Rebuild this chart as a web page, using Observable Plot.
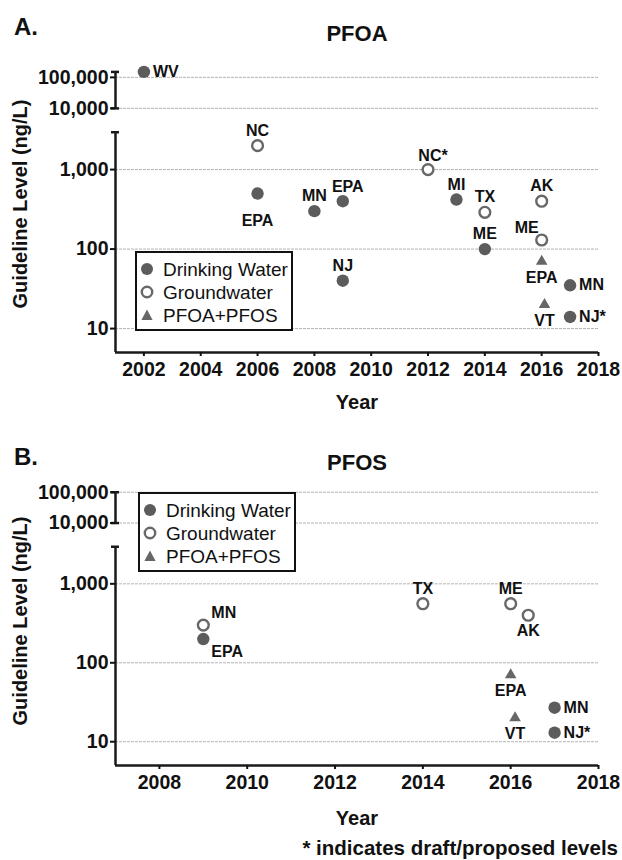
<!DOCTYPE html>
<html>
<head>
<meta charset="utf-8">
<script src="https://cdn.jsdelivr.net/npm/d3@7"></script>
<script src="https://cdn.jsdelivr.net/npm/@observablehq/plot@0.6"></script>
<style>
  body { margin: 0; background: #fff; font-family: "Liberation Sans", Arial, sans-serif; }
  #fig { position: relative; width: 622px; height: 860px; background: #fff; overflow: hidden; }
  .panel { position: absolute; left: 0; width: 622px; height: 430px; }
  .abs { position: absolute; white-space: nowrap; color: #111; line-height: 1; font-family: "Liberation Sans", Arial, sans-serif; }
  .ctr { transform: translate(-50%, -50%); }
  .legend { position: absolute; box-sizing: border-box; width: 158px; height: 80px; border: 2px solid #111; background: #fff; }
  .legend .row { position: absolute; left: 0; height: 0; }
  .legend .row svg { position: absolute; left: 3px; top: -7px; }
  .legend .row span { position: absolute; left: 26px; top: 0; transform: translateY(-50%); font-size: 19px; line-height: 1; color: #111; white-space: nowrap; }
  #fig svg g[aria-label="y-axis tick label"], #fig svg g[aria-label="x-axis tick label"] { font-weight: bold; font-size: 19.5px; }
</style>
</head>
<body>
<div id="fig"></div>
<script>
// ---------- data ----------
const legendLabels = ["Drinking Water", "Groundwater", "PFOA+PFOS"];
const legendTypes = ["dw", "gw", "combo"];
const yTickValues = [10, 100, 1000, 10000, 100000];
const yTickLabels = ["10", "100", "1,000", "10,000", "100,000"];
const xTicksA = [2002, 2004, 2006, 2008, 2010, 2012, 2014, 2016, 2018];
const xTicksB = [2008, 2010, 2012, 2014, 2016, 2018];
const xDomainA = [2001, 2018];
const xDomainB = [2007, 2018];

// PFOA
const yearA  = [2002, 2006, 2006, 2008, 2009, 2009, 2012, 2013, 2014, 2014, 2016, 2016, 2016, 2016.1, 2017, 2017];
const valueA = [150000, 2000, 500, 300, 400, 40, 1000, 420, 290, 100, 400, 130, 70, 20, 35, 14];
const typeA  = ["dw", "gw", "dw", "dw", "dw", "dw", "gw", "dw", "gw", "dw", "gw", "gw", "combo", "combo", "dw", "dw"];
const labelA = ["WV", "NC", "EPA", "MN", "EPA", "NJ", "NC*", "MI", "TX", "ME", "AK", "ME", "EPA", "VT", "MN", "NJ*"];
const sideA  = ["right", "top", "bottom-far", "top", "top-right", "top", "top-right", "top", "top", "top", "top", "left-top", "bottom", "bottom", "right", "right"];

// PFOS
const yearB  = [2009, 2009, 2014, 2016, 2016.4, 2016, 2016.1, 2017, 2017];
const valueB = [300, 200, 560, 560, 400, 70, 20, 27, 13];
const typeB  = ["gw", "dw", "gw", "gw", "gw", "combo", "combo", "dw", "dw"];
const labelB = ["MN", "EPA", "TX", "ME", "AK", "EPA", "VT", "MN", "NJ*"];
const sideB  = ["right-top", "right-bottom", "top", "top", "bottom", "bottom", "bottom", "right", "right"];

// broken axis values
const yMinValue = 5, yMaxValue = 350000, breakLow = 2950;
const segTopA = 150000, segTopB = 100000;

// ---------- helpers ----------
// piecewise log: lower segment is log10, upper segment (>= 10,000) compressed
function t(v) { return v < 5000 ? Math.log10(v) : 3.77 + (Math.log10(v) - 4) * 0.39; }

const sideStyle = {
  "top":          {dx: 0,  dy: -15, textAnchor: "middle"},
  "top-right":    {dx: 5,  dy: -14, textAnchor: "middle"},
  "bottom":       {dx: 0,  dy: 16,  textAnchor: "middle"},
  "bottom-far":   {dx: 0,  dy: 27,  textAnchor: "middle"},
  "right":        {dx: 9,  dy: 0,   textAnchor: "start"},
  "left-top":     {dx: -3, dy: -12, textAnchor: "end"},
  "right-top":    {dx: 8,  dy: -12, textAnchor: "start"},
  "right-bottom": {dx: 8,  dy: 13,  textAnchor: "start"}
};

const DOT = "#5c5c5c", OPEN = "#686868", TRI = "#666666", AXIS = "#1a1a1a";

function rowsOf(years, values, types, labels, sides) {
  return years.map((x, i) => ({x, v: values[i], type: types[i], label: labels[i], side: sides[i]}));
}

function makePanel(rows, xDomain, xTicks, segTop, marginTop, marginBottom) {
  const width = 622, height = 430, mL = 115, mR = 24;
  const pxPerYear = (width - mL - mR) / (xDomain[1] - xDomain[0]);
  const cap = 4 / pxPerYear;
  const x0 = xDomain[0];
  const tickT = yTickValues.map(t);
  const fmt = new Map(tickT.map((d, i) => [d, yTickLabels[i]]));
  const labelMarks = Object.entries(sideStyle).map(([side, s]) =>
    Plot.text(rows.filter(d => d.side === side), {
      x: "x", y: d => t(d.v), text: "label", ...s,
      fontSize: 16, fontWeight: "bold", fill: "#111"
    }));
  const axisLine = {stroke: AXIS, strokeWidth: 2.5};
  return Plot.plot({
    width, height, marginLeft: mL, marginRight: mR, marginTop, marginBottom,
    style: {fontFamily: '"Liberation Sans", Arial, sans-serif', color: "#111", background: "white"},
    x: {domain: xDomain, label: null},
    y: {type: "linear", domain: [t(yMinValue), t(yMaxValue)], label: null},
    marks: [
      Plot.ruleY(yTickValues, {y: d => t(d), stroke: "#b4b4b4", strokeWidth: 1, strokeDasharray: "3,1"}),
      Plot.ruleX([x0], {x: d => d, y1: t(10000), y2: t(segTop), ...axisLine}),
      Plot.ruleX([x0], {x: d => d, y1: t(yMinValue), y2: t(breakLow), ...axisLine}),
      Plot.ruleY([segTop, 10000, breakLow], {y: d => t(d), x1: x0 - cap, x2: x0 + cap, ...axisLine}),
      Plot.ruleY([yMinValue], {y: d => t(d), x1: xDomain[0], x2: xDomain[1], ...axisLine}),
      Plot.axisY({ticks: tickT, tickFormat: d => fmt.get(d), tickSize: 5, tickPadding: 2, strokeWidth: 2, fontSize: 19.5, fontWeight: "bold", label: null}),
      Plot.axisX({ticks: xTicks, tickFormat: d => String(d), tickSize: 4, tickPadding: 6, strokeWidth: 2, fontSize: 19.5, fontWeight: "bold", label: null}),
      Plot.dot(rows.filter(d => d.type === "gw"), {x: "x", y: d => t(d.v), r: 5.4, fill: "white", stroke: OPEN, strokeWidth: 2.4}),
      Plot.dot(rows.filter(d => d.type === "dw"), {x: "x", y: d => t(d.v), r: 6.2, fill: DOT, stroke: "none"}),
      Plot.dot(rows.filter(d => d.type === "combo"), {x: "x", y: d => t(d.v), symbol: "triangle", r: 4.3, fill: TRI, stroke: "none"}),
      ...labelMarks
    ]
  });
}

// ---------- build ----------
const fig = document.getElementById("fig");

function addPanel(svg, top) {
  const div = document.createElement("div");
  div.className = "panel";
  div.style.top = top + "px";
  div.appendChild(svg);
  fig.appendChild(div);
}
function addText(txt, x, y, size, opts = {}) {
  const d = document.createElement("div");
  d.className = "abs" + (opts.center !== false ? " ctr" : "");
  d.textContent = txt;
  d.style.left = x + "px";
  d.style.top = y + "px";
  d.style.fontSize = size + "px";
  d.style.fontWeight = opts.weight || "bold";
  if (opts.rotate) d.style.transform = "translate(-50%, -50%) rotate(-90deg)";
  if (opts.right != null) { d.style.left = "auto"; d.style.right = opts.right + "px"; d.style.transform = "translateY(-50%)"; }
  fig.appendChild(d);
}
function symbolSvg(type) {
  const ns = "http://www.w3.org/2000/svg";
  const s = document.createElementNS(ns, "svg");
  s.setAttribute("width", 14); s.setAttribute("height", 14);
  let el;
  if (type === "dw") {
    el = document.createElementNS(ns, "circle");
    el.setAttribute("cx", 7); el.setAttribute("cy", 7); el.setAttribute("r", 6);
    el.setAttribute("fill", DOT);
  } else if (type === "gw") {
    el = document.createElementNS(ns, "circle");
    el.setAttribute("cx", 7); el.setAttribute("cy", 7); el.setAttribute("r", 5.2);
    el.setAttribute("fill", "white"); el.setAttribute("stroke", OPEN); el.setAttribute("stroke-width", 2.4);
  } else {
    el = document.createElementNS(ns, "path");
    el.setAttribute("d", "M7,1.5 L12.6,12 L1.4,12 Z");
    el.setAttribute("fill", TRI);
  }
  s.appendChild(el);
  return s;
}
function addLegend(left, top) {
  const box = document.createElement("div");
  box.className = "legend";
  box.style.left = left + "px";
  box.style.top = top + "px";
  const rowY = [16, 39, 62];
  legendLabels.forEach((lab, i) => {
    const r = document.createElement("div");
    r.className = "row";
    r.style.top = rowY[i] + "px";
    r.appendChild(symbolSvg(legendTypes[i]));
    const sp = document.createElement("span");
    sp.textContent = lab;
    r.appendChild(sp);
    box.appendChild(r);
  });
  fig.appendChild(box);
}

const rowsA = rowsOf(yearA, valueA, typeA, labelA, sideA);
const rowsB = rowsOf(yearB, valueB, typeB, labelB, sideB);

addPanel(makePanel(rowsA, xDomainA, xTicksA, segTopA, 60, 78), 0);
addPanel(makePanel(rowsB, xDomainB, xTicksB, segTopB, 45, 95), 430);

// Panel A texts
addText("A.", 26, 27, 24);
addText("PFOA", 357, 34, 22);
addText("Guideline Level (ng/L)", 20, 204, 20, {rotate: true});
addText("Year", 357, 402, 20);
addLegend(135, 251);

// Panel B texts
addText("B.", 26, 457, 24);
addText("PFOS", 357, 463, 22);
addText("Guideline Level (ng/L)", 20, 621, 20, {rotate: true});
addText("Year", 357, 818, 20);
addLegend(138, 492);
addText("* indicates draft/proposed levels", 0, 848, 20.5, {right: 4, center: false});
</script>
</body>
</html>
